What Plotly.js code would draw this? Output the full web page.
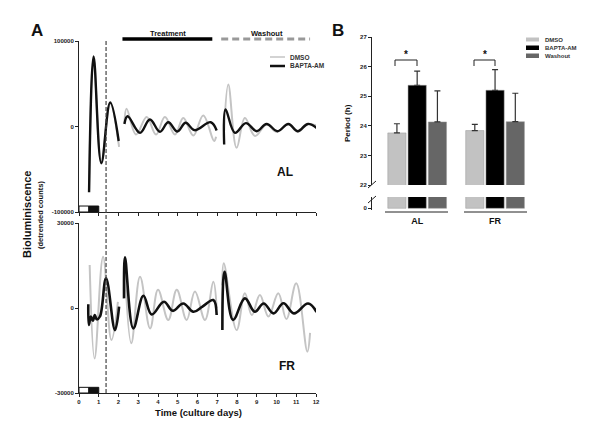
<!DOCTYPE html>
<html>
<head>
<meta charset="utf-8">
<script src="https://cdn.plot.ly/plotly-3.0.1.min.js"></script>
<style>
  html, body { margin: 0; padding: 0; background: #fff; }
  #chart { width: 600px; height: 436px; }
</style>
</head>
<body>
<div id="chart"></div>
<script>
// Panel A - AL (top), three recording segments split by null
const alDmsoDays = [0.51, 0.74, 1.13, 1.58, 2.03, null,
  2.3, 2.41, 2.89, 3.43, 3.9, 4.35, 4.86, 5.28, 5.79, 6.29, 6.84, 6.94, null,
  7.35, 7.56, 7.98, 8.4, 8.91, 9.5, 10.0, 10.6, 11.07, 11.6, 12.2];
const alDmsoCounts = [-75000, 80000, -42000, 27000, -23700, null,
  4000, 20700, -9400, 11000, -9400, 11000, -9400, 10000, -10500, 13000, -17000, -12000, null,
  -5000, 49000, -25000, 10000, -11000, 2300, -6000, 2500, -6000, 2500, -500];

const alBaptaDays = [0.51, 0.74, 1.13, 1.58, 2.01, null,
  2.3, 2.46, 3.09, 3.59, 4.1, 4.52, 4.98, 5.4, 5.85, 6.67, 6.97, null,
  7.35, 7.42, 7.9, 8.45, 9.0, 9.5, 10.05, 10.6, 11.07, 11.6, 12.15];
const alBaptaCounts = [-77000, 82000, -43000, 28000, -17000, null,
  3000, 12000, -7400, 8200, -6200, 5000, -5900, 4300, -4300, 5000, -4700, null,
  -21000, 20000, -7400, 4000, -5500, 3000, -5500, 3000, -5500, 3000, -4000];

// Panel A - FR (bottom)
const frDmsoDays = [0.54, 0.79, 1.22, 1.64, 1.97, null,
  2.3, 2.65, 3.09, 3.6, 4.0, 4.52, 4.95, 5.45, 5.87, 6.38, 6.8, 6.97, null,
  7.25, 7.33, 7.98, 8.4, 8.75, 9.16, 9.59, 10.09, 10.5, 11.0, 11.56, 11.7];
const frDmsoCounts = [15200, -17800, 18100, -11300, 2200, null,
  17000, -12400, 11000, -7200, 6400, -4200, 6400, -4200, 5800, -4200, 9300, 0, null,
  8000, 15800, -7800, 5200, -2500, 4600, -3000, 5200, -3900, 8700, -15400, -8800];

const frBaptaDays = [0.47, 0.5, 0.6, 0.7, 0.8, 0.9, 1.06, 1.37, 1.82, 2.03, null,
  2.28, 2.33, 2.75, 3.26, 3.68, 4.3, 4.75, 5.28, 5.79, 6.25, 6.8, 6.97, null,
  7.26, 7.37, 7.8, 8.4, 8.9, 9.35, 9.85, 10.35, 10.88, 11.6, 12.03];
const frBaptaCounts = [1300, -6000, -3000, -4500, -2500, -4000, -3000, 10500, -7800, 500, null,
  3400, 17900, -7200, 4300, -2300, 2200, -1000, 1600, -1300, 500, 2800, -2500, null,
  -7800, 12800, -4200, 3400, -1300, 1600, -1900, 1700, -1900, 1600, -1400];

const dayTicks = [0,1,2,3,4,5,6,7,8,9,10,11,12];
const alTicks = [-100000, 0, 100000];
const alTickText = ['-100000', '0', '100000'];
const frTicks = [-30000, 0, 30000];
const frTickText = ['-30000', '0', '30000'];

// Panel B - period (h)
const groups = ['AL', 'FR'];
const periodDmso = [23.76, 23.84];
const periodBapta = [25.37, 25.2];
const periodWashout = [24.13, 24.14];
const errDmso = [0.31, 0.21];
const errBapta = [0.48, 0.7];
const errWashout = [1.05, 0.96];
const periodTicks = [22, 23, 24, 25, 26, 27];

const colDmso = '#c2c2c2', colBapta = '#000000', colWash = '#666666';

// pixel helpers for decorations
function px(x) { return x / 600; }
function py(y) { return 1 - y / 436; }

const lineTrace = (x, y, xa, ya, color, w) => ({
  x: x, y: y, xaxis: xa, yaxis: ya, type: 'scatter', mode: 'lines',
  line: {color: color, width: w, shape: 'spline', smoothing: 1.1},
  connectgaps: false, showlegend: false, hoverinfo: 'skip'
});

const barTrace = (vals, err, color, xa, ya) => ({
  x: groups, y: vals, xaxis: xa, yaxis: ya, type: 'bar',
  marker: {color: color, line: {color: '#999', width: 0.5}},
  error_y: err ? {type: 'data', symmetric: false, array: err, arrayminus: [0, 0],
    color: '#333', thickness: 1.2, width: 3} : {visible: false},
  showlegend: false, hoverinfo: 'skip'
});

const data = [
  lineTrace(alDmsoDays, alDmsoCounts, 'x', 'y', '#c4c4c4', 2),
  lineTrace(alBaptaDays, alBaptaCounts, 'x', 'y', '#111', 2.4),
  lineTrace(frDmsoDays, frDmsoCounts, 'x2', 'y2', '#c4c4c4', 2),
  lineTrace(frBaptaDays, frBaptaCounts, 'x2', 'y2', '#111', 2.6),
  barTrace(periodDmso, errDmso, colDmso, 'x3', 'y3'),
  barTrace(periodBapta, errBapta, colBapta, 'x3', 'y3'),
  barTrace(periodWashout, errWashout, colWash, 'x3', 'y3'),
  barTrace(periodDmso, null, colDmso, 'x4', 'y4'),
  barTrace(periodBapta, null, colBapta, 'x4', 'y4'),
  barTrace(periodWashout, null, colWash, 'x4', 'y4')
];

const tickFont = {family: 'Liberation Sans, Arial', size: 6, color: '#222', weight: 'bold'};
const axBase = {showgrid: false, zeroline: false, showline: true, linecolor: '#222',
  linewidth: 1, ticks: 'outside', ticklen: 3, tickcolor: '#222', tickfont: tickFont, fixedrange: true};

const bold = (s, sz, col) => ({family: 'Liberation Sans, Arial', size: sz, color: col || '#111', weight: 'bold'});
const ann = (x, y, text, sz, opts) => Object.assign({
  xref: 'paper', yref: 'paper', x: px(x), y: py(y), text: '<b>' + text + '</b>',
  showarrow: false, font: bold(text, sz), xanchor: 'center', yanchor: 'middle'
}, opts || {});

const layout = {
  width: 600, height: 436,
  margin: {l: 0, r: 0, t: 0, b: 0},
  paper_bgcolor: '#fff', plot_bgcolor: 'rgba(0,0,0,0)',
  showlegend: false,
  barmode: 'group', bargap: 0.22, bargroupgap: 0.1,
  xaxis: Object.assign({}, axBase, {domain: [px(79), px(316)], range: [0, 12], anchor: 'y',
    tickvals: dayTicks, showticklabels: false}),
  yaxis: Object.assign({}, axBase, {domain: [py(212), py(41)], range: [-100000, 100000], anchor: 'x',
    tickvals: alTicks, ticktext: alTickText}),
  xaxis2: Object.assign({}, axBase, {domain: [px(79), px(316)], range: [0, 12], anchor: 'y2',
    tickvals: dayTicks}),
  yaxis2: Object.assign({}, axBase, {domain: [py(393), py(223)], range: [-30000, 30000], anchor: 'x2',
    tickvals: frTicks, ticktext: frTickText}),
  xaxis3: {domain: [px(372), px(534)], range: [-0.58, 1.5], anchor: 'y3', type: 'category',
    showline: false, showticklabels: false, ticks: '', showgrid: false, zeroline: false, fixedrange: true},
  yaxis3: Object.assign({}, axBase, {domain: [py(185), py(37)], range: [22, 27], anchor: 'x3',
    tickvals: periodTicks}),
  xaxis4: {domain: [px(372), px(534)], range: [-0.58, 1.5], anchor: 'y4', type: 'category',
    showline: false, ticks: '', showgrid: false, zeroline: false, fixedrange: true,
    tickfont: bold('', 9), ticklabelstandoff: 4},
  yaxis4: Object.assign({}, axBase, {domain: [py(210), py(197)], range: [-0.15, 1], anchor: 'x4',
    tickvals: [0]}),
  shapes: [
    // light/dark bars at the start of each record
    {type: 'rect', xref: 'x', yref: 'y', x0: 0, x1: 0.5, y0: -100000, y1: -93000, fillcolor: '#fff', line: {color: '#111', width: 1}},
    {type: 'rect', xref: 'x', yref: 'y', x0: 0.5, x1: 1, y0: -100000, y1: -93000, fillcolor: '#111', line: {color: '#111', width: 1}},
    {type: 'rect', xref: 'x2', yref: 'y2', x0: 0, x1: 0.5, y0: -30000, y1: -28000, fillcolor: '#fff', line: {color: '#111', width: 1}},
    {type: 'rect', xref: 'x2', yref: 'y2', x0: 0.5, x1: 1, y0: -30000, y1: -28000, fillcolor: '#111', line: {color: '#111', width: 1}},
    // dashed line at treatment start
    {type: 'line', xref: 'x', yref: 'paper', x0: 1.37, x1: 1.37, y0: py(393), y1: py(40), line: {color: '#444', width: 1.2, dash: '4px,2px'}},
    // treatment / washout bars
    {type: 'line', xref: 'x', yref: 'paper', x0: 2.2, x1: 6.75, y0: py(39), y1: py(39), line: {color: '#000', width: 3.5}},
    {type: 'line', xref: 'x', yref: 'paper', x0: 7.2, x1: 11.7, y0: py(39), y1: py(39), line: {color: '#999', width: 3, dash: '7px,4px'}},
    // legend A
    {type: 'line', xref: 'paper', yref: 'paper', x0: px(270), x1: px(285), y0: py(57), y1: py(57), line: {color: '#c4c4c4', width: 1.5}},
    {type: 'line', xref: 'paper', yref: 'paper', x0: px(270), x1: px(285), y0: py(66), y1: py(66), line: {color: '#111', width: 2.5}},
    // legend B
    {type: 'rect', xref: 'paper', yref: 'paper', x0: px(526), x1: px(539), y0: py(41.5), y1: py(37.5), fillcolor: colDmso, line: {width: 0}},
    {type: 'rect', xref: 'paper', yref: 'paper', x0: px(526), x1: px(539), y0: py(50), y1: py(45.5), fillcolor: colBapta, line: {width: 0}},
    {type: 'rect', xref: 'paper', yref: 'paper', x0: px(526), x1: px(539), y0: py(58), y1: py(53.5), fillcolor: colWash, line: {width: 0}},
    // axis break marks
    {type: 'line', xref: 'paper', yref: 'paper', x0: px(368), x1: px(376), y0: py(188), y1: py(181), line: {color: '#222', width: 1}},
    {type: 'line', xref: 'paper', yref: 'paper', x0: px(368), x1: px(376), y0: py(203), y1: py(196), line: {color: '#222', width: 1}},
    // group underlines
    {type: 'line', xref: 'paper', yref: 'paper', x0: px(385), x1: px(448), y0: py(212), y1: py(212), line: {color: '#222', width: 1}},
    {type: 'line', xref: 'paper', yref: 'paper', x0: px(464), x1: px(527), y0: py(212), y1: py(212), line: {color: '#222', width: 1}},
    // significance brackets
    {type: 'line', xref: 'paper', yref: 'paper', x0: px(395), x1: px(395), y0: py(66), y1: py(60), line: {color: '#222', width: 1}},
    {type: 'line', xref: 'paper', yref: 'paper', x0: px(395), x1: px(417), y0: py(60), y1: py(60), line: {color: '#222', width: 1}},
    {type: 'line', xref: 'paper', yref: 'paper', x0: px(417), x1: px(417), y0: py(60), y1: py(66), line: {color: '#222', width: 1}},
    {type: 'line', xref: 'paper', yref: 'paper', x0: px(474), x1: px(474), y0: py(66), y1: py(60), line: {color: '#222', width: 1}},
    {type: 'line', xref: 'paper', yref: 'paper', x0: px(474), x1: px(495), y0: py(60), y1: py(60), line: {color: '#222', width: 1}},
    {type: 'line', xref: 'paper', yref: 'paper', x0: px(495), x1: px(495), y0: py(60), y1: py(66), line: {color: '#222', width: 1}}
  ],
  annotations: [
    ann(37, 31, 'A', 17),
    ann(338, 31, 'B', 17),
    ann(168, 33, 'Treatment', 7.5),
    ann(267, 33, 'Washout', 7.5),
    ann(288, 57, 'DMSO', 6.5, {xanchor: 'left', font: bold('', 6.5, '#333')}),
    ann(288, 66, 'BAPTA-AM', 6.5, {xanchor: 'left', font: bold('', 6.5, '#333')}),
    ann(285, 172, 'AL', 12),
    ann(287, 366, 'FR', 12),
    ann(27, 215, 'Bioluminiscence', 11, {textangle: -90}),
    ann(40, 215, '(detrended counts)', 7.5, {textangle: -90}),
    ann(198, 412, 'Time (culture days)', 9.5),
    ann(348, 123, 'Period (h)', 8, {textangle: -90}),
    ann(543, 39.5, 'DMSO', 6, {xanchor: 'left', font: bold('', 6, '#333')}),
    ann(543, 47.7, 'BAPTA-AM', 6, {xanchor: 'left', font: bold('', 6, '#333')}),
    ann(543, 55.7, 'Washout', 6, {xanchor: 'left', font: bold('', 6, '#333')}),
    ann(406, 55, '*', 10),
    ann(484.5, 55, '*', 10)
  ]
};

Plotly.newPlot('chart', data, layout, {displayModeBar: false, staticPlot: true});
</script>
</body>
</html>
